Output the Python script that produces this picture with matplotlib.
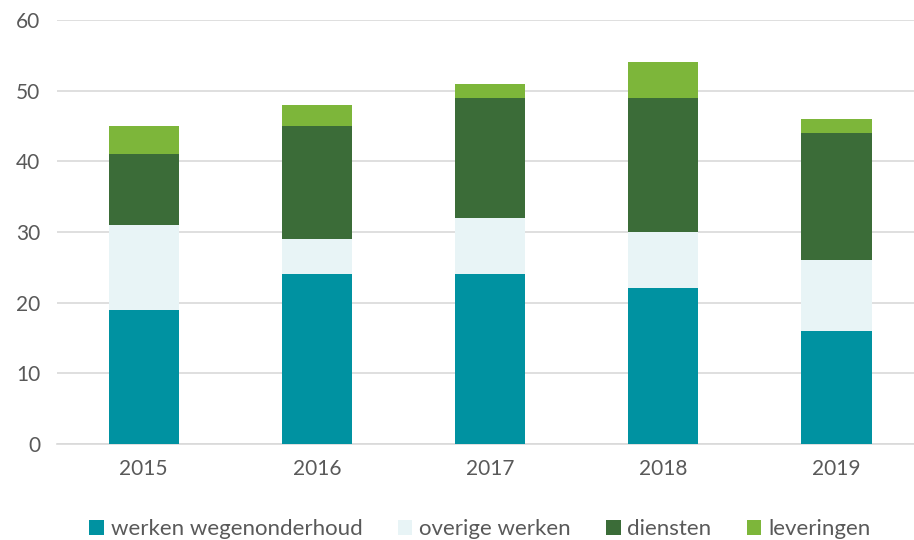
import matplotlib.pyplot as plt
import numpy as np

plt.rcParams['font.family'] = ['Lato', 'DejaVu Sans']

years = ['2015', '2016', '2017', '2018', '2019']
werken_wegenonderhoud = [19, 24, 24, 22, 16]
overige_werken = [12, 5, 8, 8, 10]
diensten = [10, 16, 17, 19, 18]
leveringen = [4, 3, 2, 5, 2]

series = [
    ('werken wegenonderhoud', werken_wegenonderhoud, '#0092A1'),
    ('overige werken', overige_werken, '#E8F4F6'),
    ('diensten', diensten, '#3B6C38'),
    ('leveringen', leveringen, '#7DB63A'),
]

fig = plt.figure(figsize=(9.14, 5.40), dpi=100)
ax = fig.add_axes([0.0624, 0.178, 0.9476, 0.785])

x = np.arange(len(years))
bottom = np.zeros(len(years))
for label, vals, color in series:
    ax.bar(x, vals, width=0.405, bottom=bottom, color=color, label=label, zorder=3)
    bottom += np.array(vals)

ax.set_xlim(-0.5, len(years) - 0.5)
ax.set_ylim(0, 60)
ax.set_yticks(range(0, 61, 10))
ax.set_xticks(x)
ax.set_xticklabels(years)
ax.grid(axis='y', color='#D9D9D9', linewidth=1.2, zorder=0)
for s in ['top', 'right', 'left']:
    ax.spines[s].set_visible(False)
ax.spines['bottom'].set_color('#D9D9D9')
ax.spines['bottom'].set_linewidth(1.2)
ax.tick_params(axis='both', length=0, labelsize=15, labelcolor='#595959')
ax.tick_params(axis='x', pad=11)
ax.tick_params(axis='y', pad=12)

fig.legend(loc='lower center', bbox_to_anchor=(0.525, -0.035), ncol=4, frameon=False,
           fontsize=16, labelcolor='#595959', handlelength=0.65, handleheight=0.65,
           handletextpad=0.3, columnspacing=1.6)

fig.savefig('out.png', dpi=100)
